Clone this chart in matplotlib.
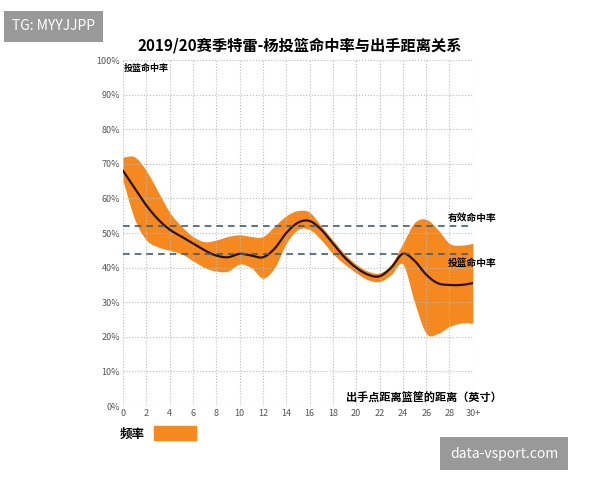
import matplotlib
matplotlib.use("Agg")
import matplotlib.pyplot as plt
import numpy as np
from matplotlib.patches import Patch

plt.rcParams['font.family'] = ['Noto Sans CJK SC', 'DejaVu Sans']

dist = list(range(31))
center = [68,63,58,54,51,49,47,45,43.5,43,44,43.5,43,45.5,50,53,53.5,51,47,43,40,38,37.5,40,44,42,38,35.5,35,35,35.5]
upper = [72,72,68,62,56,52,49,47.5,48,49,49.5,49,49,52,55,56.5,56,52,48,44,41,39,38.5,41,47,53,54,51,47,46.5,47]
lower = [65,54,48,46,45,44,42,40,39,39,41,40,37,40,47,51,51,48,44,41,38.5,36.5,36,38,41,30,21,21,23,24,24]
eff_fg = 52
fg = 44
xticks = list(range(0, 31, 2))
xticklabels = [str(v) for v in xticks[:-1]] + ['30+']
yticks = list(range(0, 101, 10))


def smooth(x, y, n=12):
    # Catmull-Rom curve through the given points (drawing only)
    x = np.asarray(x, float); y = np.asarray(y, float)
    P = np.column_stack([x, y])
    P = np.vstack([2 * P[0] - P[1], P, 2 * P[-1] - P[-2]])
    out = []
    t = np.linspace(0, 1, n, endpoint=False)[:, None]
    for i in range(1, len(P) - 2):
        p0, p1, p2, p3 = P[i - 1], P[i], P[i + 1], P[i + 2]
        seg = 0.5 * ((2 * p1) + (-p0 + p2) * t + (2 * p0 - 5 * p1 + 4 * p2 - p3) * t**2
                     + (-p0 + 3 * p1 - 3 * p2 + p3) * t**3)
        out.append(seg)
    out.append(P[-2][None, :])
    out = np.vstack(out)
    return out[:, 0], out[:, 1]


fig = plt.figure(figsize=(6, 4.8), dpi=100)
ax = fig.add_axes([0.205, 0.154, 0.583, 0.721])
xs, ls_ = smooth(dist, lower)
_, us_ = smooth(dist, upper)
_, cs_ = smooth(dist, center)
ax.fill_between(xs, ls_, us_, color='#f5891f', lw=0)
ax.plot(xs, cs_, color='#2a1208', lw=1.6)
ax.axhline(eff_fg, color='#3d5f7a', lw=1.2, ls=(0, (4, 3)))
ax.axhline(fg, color='#3d5f7a', lw=1.2, ls=(0, (4, 3)))
ax.set_xlim(0, 30); ax.set_ylim(0, 100)
ax.set_xticks(xticks); ax.set_xticklabels(xticklabels)
ax.set_yticks(yticks); ax.set_yticklabels([f'{v}%' for v in yticks])
ax.tick_params(labelsize=6.5, colors='#555555', length=0, pad=2)
ax.grid(True, ls=':', color='#bbbbbb', lw=0.8)
for s in ax.spines.values():
    s.set_visible(False)
ax.text(32, 53, '有效命中率', fontsize=7, ha='right', va='bottom', fontweight='bold', clip_on=False)
ax.text(32, 41.5, '投篮命中率', fontsize=7, ha='right', va='center', fontweight='bold', clip_on=False)
ax.text(0.1, 99, '投篮命中率', fontsize=6.5, va='top', fontweight='bold')
ax.text(32.5, 0.5, '出手点距离篮筐的距离（英寸）', fontsize=8, ha='right', va='bottom',
        fontweight='bold', clip_on=False)
fig.text(0.5, 0.895, '2019/20赛季特雷-杨投篮命中率与出手距离关系', ha='center', fontsize=11, fontweight='bold')
fig.legend(handles=[Patch(color='#f5891f')], labels=['频率'], loc='center left',
           bbox_to_anchor=(0.18, 0.097), frameon=False, fontsize=9, handlelength=3.3,
           handleheight=1.3, markerfirst=False, prop={'weight': 'bold', 'size': 9})
fig.text(0.02, 0.945, 'TG: MYYJJPP', fontsize=10, color='white',
         bbox=dict(facecolor='#999999', edgecolor='none', pad=6), va='center')
fig.text(0.75, 0.055, 'data-vsport.com', fontsize=10, color='white',
         bbox=dict(facecolor='#999999', edgecolor='none', pad=7), va='center')
fig.savefig('out.png', dpi=100)
